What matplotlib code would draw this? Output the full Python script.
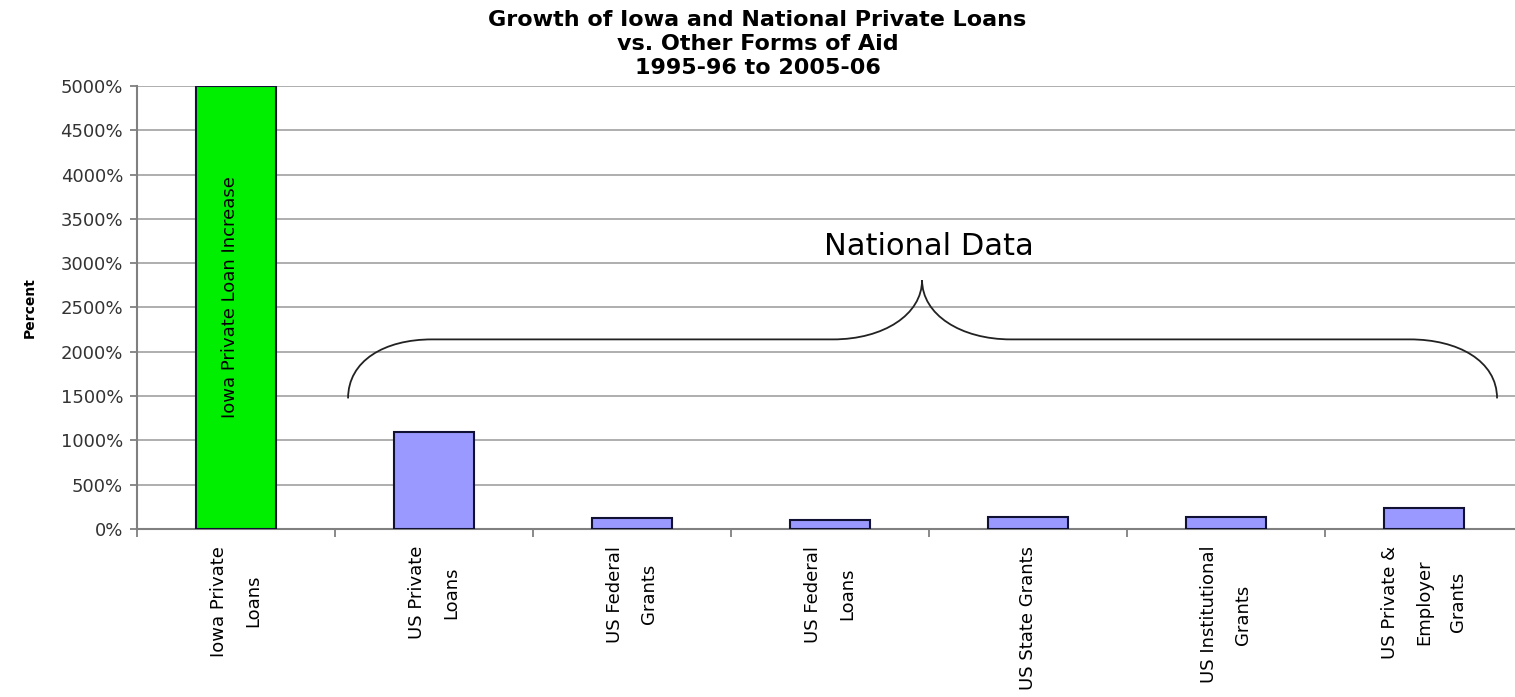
import numpy as np
import matplotlib.pyplot as plt
from matplotlib.path import Path
from matplotlib.patches import PathPatch
from matplotlib.ticker import FuncFormatter

# donnees (croissance en %)
categories = ["Iowa Private\nLoans", "US Private\nLoans", "US Federal\nGrants",
              "US Federal\nLoans", "US State Grants", "US Institutional\nGrants",
              "US Private &\nEmployer\nGrants"]
growth = [5000, 1090, 128, 105, 139, 136, 234]
bar_colors = ["#00ee00", "#9999ff", "#9999ff", "#9999ff", "#9999ff", "#9999ff", "#9999ff"]
yticks = np.arange(0, 5001, 500)

fig = plt.figure(figsize=(15.15, 6.97), dpi=100)
ax = fig.add_axes([137/1515, 1-529/697, 1386/1515, 443/697])

x = np.arange(len(categories))
ax.bar(x, growth, width=0.4, color=bar_colors, edgecolor="#111133", linewidth=1.5, zorder=3)

ax.set_xlim(-0.5, len(categories)-0.5)
ax.set_ylim(0, 5000)
ax.set_yticks(yticks)
ax.yaxis.set_major_formatter(FuncFormatter(lambda v, p: "%d%%" % v))
ax.grid(axis="y", color="#a8a8a8", linewidth=1.3, zorder=0)

# ticks aux limites des categories, etiquettes au centre
ax.set_xticks(np.arange(-0.5, len(categories), 1.0))
ax.set_xticklabels([])
ax.set_xticks(x, minor=True)
ax.set_xticklabels(categories, minor=True, rotation=90, fontsize=13,
                   va="top", ha="center", multialignment="center", linespacing=2.15)
ax.tick_params(axis="x", which="minor", length=0, pad=12)
ax.tick_params(axis="x", which="major", length=6, color="#808080", width=1.3)
ax.tick_params(axis="y", length=5, color="#808080", width=1.3, pad=5, labelsize=13, labelcolor="#333333")

for s in ["top", "right"]:
    ax.spines[s].set_visible(False)
for s in ["left", "bottom"]:
    ax.spines[s].set_color("#808080")
    ax.spines[s].set_linewidth(1.5)

ax.set_ylabel("Percent", fontsize=10, fontweight="bold")
ax.yaxis.set_label_coords(-0.072, 0.5)

# texte dans la barre verte
ax.text(x[0]-0.03, 2620, "Iowa Private Loan Increase", rotation=90, fontsize=13,
        ha="center", va="center", zorder=4)

# accolade "National Data"
verts = [(0.566, 1474), (0.566, 1900), (0.75, 2140), (0.99, 2140),
         (3.015, 2140),
         (3.27, 2140), (3.465, 2420), (3.465, 2810),
         (3.465, 2420), (3.66, 2140), (3.914, 2140),
         (5.929, 2140),
         (6.17, 2140), (6.369, 1900), (6.369, 1474)]
codes = [Path.MOVETO, Path.CURVE4, Path.CURVE4, Path.CURVE4,
         Path.LINETO,
         Path.CURVE4, Path.CURVE4, Path.CURVE4,
         Path.CURVE4, Path.CURVE4, Path.CURVE4,
         Path.LINETO,
         Path.CURVE4, Path.CURVE4, Path.CURVE4]
ax.add_patch(PathPatch(Path(verts, codes), facecolor="none", edgecolor="#222222",
                       linewidth=1.3, zorder=4))
ax.text(3.5, 3190, "National Data", fontsize=22, ha="center", va="center", zorder=4)

fig.text(0.5, 1-10/697, "Growth of Iowa and National Private Loans\nvs. Other Forms of Aid\n1995-96 to 2005-06",
         ha="center", va="top", fontsize=16, fontweight="bold", linespacing=1.25)

fig.savefig("out.png", dpi=100)
